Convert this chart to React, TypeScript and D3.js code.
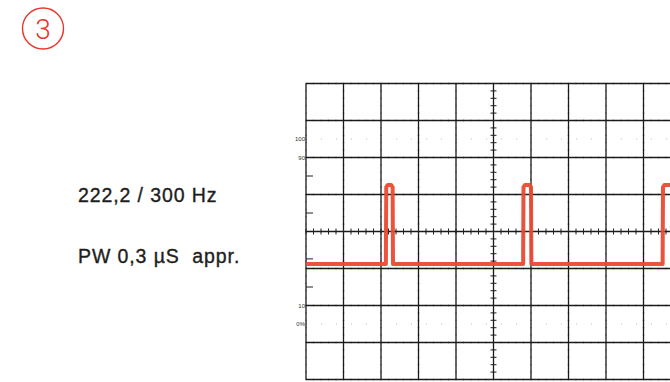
import React from "react";
import * as d3 from "d3";

// Graticule: 10 horizontal divisions x 8 vertical divisions
const xDivisions = [0, 1, 2, 3, 4, 5, 6, 7, 8, 9, 10];
const yDivisions = [-4, -3, -2, -1, 0, 1, 2, 3, 4];
// Percentage markers on the left edge (value in divisions)
const pctLabels = ["100", "90", "10", "0%"];
const pctLevels = [2.5, 2, -2, -2.5];
const dottedLevels = [2.5, -2.5];
const leftTickLevels = [1.5, 0.5, -0.74, -1.5];

// Trace (in divisions)
const pulseRise = [2.13, 5.79, 9.51];
const pulseFall = [2.32, 6.01, 9.9];
const baseLevel = -0.88;
const peakLevel = 1.26;
const traceStart = 0;
const traceEnd = 10;

const infoLines = ["222,2 / 300 Hz", "PW 0,3 \u00B5S\u00A0 appr."];

export default function App() {
  const W = 670, H = 382;
  const x = d3.scaleLinear().domain([0, 10]).range([306, 681]);
  const y = d3.scaleLinear().domain([-4, 4]).range([379.5, 83.5]);
  const red = "#ea4a32";

  const pts: [number, number][] = [[traceStart, baseLevel]];
  pulseRise.forEach((r, i) => {
    const f = pulseFall[i];
    pts.push([r, baseLevel]);
    pts.push([r + 0.01, peakLevel - 0.06]);
    pts.push([r + 0.05, peakLevel]);
    pts.push([f - 0.05, peakLevel]);
    pts.push([f - 0.01, peakLevel - 0.06]);
    pts.push([f, baseLevel]);
  });
  pts.push([traceEnd, baseLevel]);
  const line = d3.line<[number, number]>().x((d) => x(d[0])).y((d) => y(d[1]));

  const minor = d3.range(0, 10.001, 0.2);
  const minorY = d3.range(-4, 4.001, 0.2);

  return (
    <svg width={W} height={H} style={{ position: "absolute", left: 0, top: 0, background: "#fff" }}>
      <rect width={W} height={H} fill="#fff" />
      <circle cx={43} cy={28.5} r={20.5} fill="none" stroke="#e8352a" strokeWidth={1.4} />
      <text x={43} y={38.5} textAnchor="middle" fontFamily="Roboto" fontWeight={300} fontSize={28} fill="#e8352a">3</text>

      {infoLines.map((t, i) => (
        <text key={i} x={78} y={201.5 + i * 61} fontFamily="Liberation Sans, Arial, sans-serif" fontSize={19.5} fill="#1e1e1e" stroke="#1e1e1e" strokeWidth={0.35} letterSpacing={0.9}>{t}</text>
      ))}

      {dottedLevels.map((v, i) => (
        <line key={"d" + i} x1={x(0)} x2={x(10)} y1={y(v)} y2={y(v)} stroke="#bbb" strokeWidth={1} strokeDasharray="1 14" />
      ))}

      {yDivisions.map((v) =>
        minor.map((m, j) => (
          <line key={"hy" + v + "-" + j} x1={x(m)} x2={x(m)} y1={y(v) - 1} y2={y(v) + 1} stroke="#888" strokeWidth={0.7} />
        ))
      )}
      {xDivisions.map((v) =>
        minorY.map((m, j) => (
          <line key={"vx" + v + "-" + j} x1={x(v) - 1} x2={x(v) + 1} y1={y(m)} y2={y(m)} stroke="#888" strokeWidth={0.7} />
        ))
      )}

      {xDivisions.map((v) => (
        <line key={"gx" + v} x1={x(v)} x2={x(v)} y1={y(4)} y2={y(-4)} stroke="#1a1a1a" strokeWidth={1.3} />
      ))}
      {yDivisions.map((v) => (
        <line key={"gy" + v} x1={x(0)} x2={x(10)} y1={y(v)} y2={y(v)} stroke="#1a1a1a" strokeWidth={1.3} />
      ))}

      {minor.map((m, j) => (
        <line key={"cx" + j} x1={x(m)} x2={x(m)} y1={y(0) - 3} y2={y(0) + 3} stroke="#222" strokeWidth={1} />
      ))}
      {minorY.map((m, j) => (
        <line key={"cy" + j} x1={x(5) - 3} x2={x(5) + 3} y1={y(m)} y2={y(m)} stroke="#222" strokeWidth={1} />
      ))}

      {leftTickLevels.map((v, i) => (
        <line key={"lt" + i} x1={x(0)} x2={x(0) + 7} y1={y(v)} y2={y(v)} stroke="#222" strokeWidth={1} />
      ))}
      {pctLabels.map((t, i) => (
        <text key={"pl" + i} x={x(0) - 1} y={y(pctLevels[i]) + 2} textAnchor="end" fontFamily="Liberation Sans, Arial, sans-serif" fontSize={6} fill="#333">{t}</text>
      ))}

      <path d={line(pts) || ""} fill="none" stroke={red} strokeWidth={4} strokeLinejoin="round" opacity={0.95} />
    </svg>
  );
}
